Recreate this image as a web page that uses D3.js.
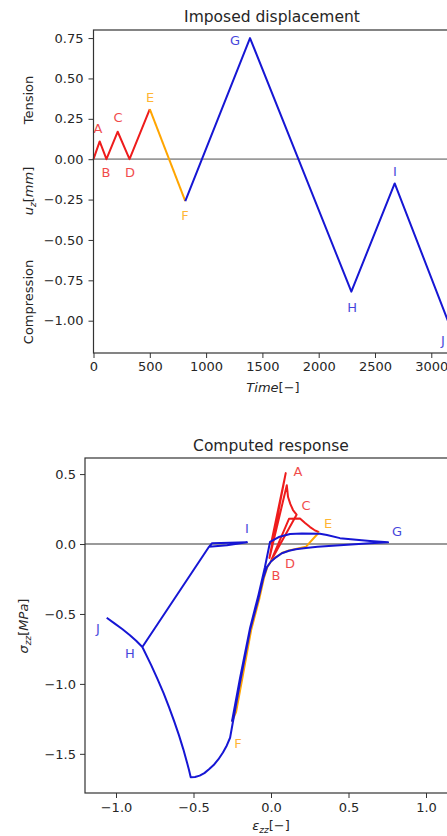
<!DOCTYPE html>
<html>
<head>
<meta charset="utf-8">
<script src="https://cdn.jsdelivr.net/npm/d3@7"></script>
<style>
body{margin:0;background:#fff}
svg{display:block;font-family:"DejaVu Sans",sans-serif}
</style>
</head>
<body>
<svg width="447" height="836"></svg>
<script>
// ---- data: imposed displacement history ----
const pointNames = ["A","B","C","D","E","F","G","H","I","J"];
const dispTime  = [0, 55, 115, 215, 320, 500, 815, 1390, 2290, 2675, 3175];
const dispValue = [0, 0.11, 0, 0.17, 0, 0.31, -0.26, 0.75, -0.82, -0.15, -1.05];
const phaseBreaks = [0, 5, 6, 10]; // red 0..5, orange 5..6, blue 6..10
const dispLabelT = [40, 111, 218, 324, 502, 813, 1257, 2296, 2678, 3104];
const dispLabelU = [0.193, -0.085, 0.261, -0.085, 0.385, -0.346, 0.738, -0.921, -0.079, -1.12];
const timeTicks = [0, 500, 1000, 1500, 2000, 2500, 3000];
const dispTicks = [-1.0, -0.75, -0.5, -0.25, 0, 0.25, 0.5, 0.75];

// ---- data: computed response (strain, stress) ----
const redPath = [[0,0],[0.095,0.507],[-0.01,-0.1],[0.102,0.42],[0.11,0.336],[0.125,0.285],[0.142,0.243],
  [0.165,0.21],[0.0,-0.12],[0.116,0.18],[0.187,0.182],[0.22,0.15],[0.252,0.121],[0.28,0.1],[0.31,0.084]];
const orangePath = [[0.31,0.084],[0.225,-0.02],[0.16,-0.036],[0.116,-0.046],[0.07,-0.064],[0.032,-0.093],
  [0.0,-0.123],[-0.024,-0.165],[-0.046,-0.245],[-0.074,-0.385],[-0.128,-0.615],[-0.19,-0.99],
  [-0.225,-1.2],[-0.252,-1.27]];
const bluePath = [[-0.252,-1.27],[-0.2,-0.96],[-0.135,-0.6],[-0.08,-0.36],[-0.04,-0.17],[-0.006,0.016],
  [0.05,0.05],[0.123,0.071],[0.2,0.075],[0.316,0.074],[0.361,0.064],[0.445,0.042],[0.55,0.03],[0.639,0.022],[0.755,0.012],
  [0.639,0.005],[0.445,-0.008],[0.3,-0.02],[0.225,-0.028],[0.16,-0.038],[0.116,-0.048],[0.07,-0.066],
  [0.032,-0.095],[0.0,-0.125],[-0.026,-0.165],[-0.05,-0.245],[-0.08,-0.385],[-0.135,-0.615],[-0.2,-0.99],
  [-0.264,-1.385],[-0.285,-1.44],[-0.31,-1.49],[-0.34,-1.54],[-0.37,-1.58],[-0.4,-1.61],[-0.43,-1.638],
  [-0.46,-1.656],[-0.49,-1.666],[-0.518,-1.668],
  [-0.529,-1.616],[-0.541,-1.566],[-0.566,-1.466],[-0.594,-1.366],[-0.625,-1.266],[-0.658,-1.166],
  [-0.693,-1.066],[-0.732,-0.966],[-0.773,-0.866],[-0.83,-0.736],
  [-0.4,-0.02],[-0.38,0.006],[-0.155,0.013],
  [-0.284,-0.008],[-0.4,-0.02],[-0.83,-0.736],[-0.87,-0.692],[-0.91,-0.652],[-0.96,-0.608],[-1.01,-0.567],[-1.06,-0.527]];
const respLabelE = [0.174, 0.032, 0.226, 0.123, 0.368, -0.213, 0.813, -0.91, -0.155, -1.116];
const respLabelS = [0.515, -0.223, 0.278, -0.137, 0.15, -1.425, 0.092, -0.781, 0.114, -0.602];
const strainTicks = [-1.0, -0.5, 0, 0.5, 1.0];
const stressTicks = [-1.5, -1.0, -0.5, 0, 0.5];

const colors = ["#ee1c1c", "#ffa500", "#1616d4"];
const labelColor = i => i < 4 ? colors[0] : (i < 6 ? colors[1] : colors[2]);

const svg = d3.select('svg');
svg.append('rect').attr('width', 447).attr('height', 836).attr('fill', '#fff');

// helper for mathtext-like labels: [text, italic, subscript]
const addMath = (sel, pieces) => {
  pieces.forEach(([txt, it, sub], i) => {
    const prevSub = i > 0 && pieces[i-1][2];
    sel.append('tspan').text(txt)
      .attr('font-style', it ? 'italic' : 'normal')
      .attr('font-size', sub ? '9px' : null)
      .attr('dy', sub && !prevSub ? 2.5 : (!sub && prevSub ? -2.5 : null));
  });
};

const styleAxis = g => {
  g.select('.domain').remove();
  g.selectAll('.tick line').attr('stroke', '#333').attr('stroke-width', 1);
  g.selectAll('.tick text').attr('fill', '#262626').attr('font-size', 13)
    .attr('font-family', '"DejaVu Sans",sans-serif');
};

// ================= top: imposed displacement =================
const x1 = d3.scaleLinear().domain([0, 3175]).range([93.5, 451]);
const y1 = d3.scaleLinear().domain([-1.2, 0.8]).range([353, 30]);

const topG = svg.append('g');
topG.append('line').attr('x1', x1.range()[0]).attr('x2', x1.range()[1])
  .attr('y1', y1(0)).attr('y2', y1(0)).attr('stroke', '#9a9a9a').attr('stroke-width', 1.8);

const line1 = d3.line().x(d => x1(d[0])).y(d => y1(d[1]));
const dispPts = dispTime.map((t, i) => [t, dispValue[i]]);
for (let p = 0; p < 3; p++) {
  topG.append('path')
    .attr('d', line1(dispPts.slice(phaseBreaks[p], phaseBreaks[p+1] + 1)))
    .attr('fill', 'none').attr('stroke', colors[p]).attr('stroke-width', 2)
    .attr('stroke-linejoin', 'round');
}
pointNames.forEach((n, i) => {
  topG.append('text').text(n)
    .attr('x', x1(dispLabelT[i])).attr('y', y1(dispLabelU[i]))
    .attr('text-anchor', 'middle').attr('dominant-baseline', 'central')
    .attr('font-size', 13).attr('fill', labelColor(i)).attr('opacity', 0.8);
});

topG.append('rect').attr('x', 93.5).attr('y', 30).attr('width', 451 - 93.5).attr('height', 323)
  .attr('fill', 'none').attr('stroke', '#333').attr('stroke-width', 1.2);

topG.append('g').attr('transform', `translate(0,353)`)
  .call(d3.axisBottom(x1).tickValues(timeTicks).tickFormat(d3.format('d')).tickSize(5).tickPadding(4))
  .call(styleAxis);
topG.append('g').attr('transform', `translate(93.5,0)`)
  .call(d3.axisLeft(y1).tickValues(dispTicks).tickFormat(d3.format('.2f')).tickSize(5).tickPadding(5))
  .call(styleAxis);

topG.append('text').text('Imposed displacement').attr('x', 272).attr('y', 22)
  .attr('text-anchor', 'middle').attr('font-size', 15.5).attr('fill', '#262626');
const tl = topG.append('text').attr('x', 273).attr('y', 392).attr('text-anchor', 'middle')
  .attr('font-size', 13).attr('fill', '#262626');
addMath(tl, [['Time', true, false], ['[−]', false, false]]);

[['Tension', 100], ['Compression', 302]].forEach(([t, yc]) => {
  topG.append('text').text(t).attr('transform', `translate(33,${yc}) rotate(-90)`)
    .attr('text-anchor', 'middle').attr('font-size', 13).attr('fill', '#262626');
});
const ul = topG.append('text').attr('transform', `translate(33,191) rotate(-90)`)
  .attr('text-anchor', 'middle').attr('font-size', 13).attr('fill', '#262626');
addMath(ul, [['u', true, false], ['z', true, true], ['[', false, false], ['mm', true, false], [']', false, false]]);

// ================= bottom: computed response =================
const x2 = d3.scaleLinear().domain([-1.2, 1.2]).range([85, 457]);
const y2 = d3.scaleLinear().domain([-1.78, 0.615]).range([793, 458]);

const botG = svg.append('g');
botG.append('line').attr('x1', x2.range()[0]).attr('x2', x2.range()[1])
  .attr('y1', y2(0)).attr('y2', y2(0)).attr('stroke', '#9a9a9a').attr('stroke-width', 1.8);

const line2 = d3.line().x(d => x2(d[0])).y(d => y2(d[1]));
[redPath, orangePath, bluePath].forEach((path, p) => {
  botG.append('path').attr('d', line2(path))
    .attr('fill', 'none').attr('stroke', colors[p]).attr('stroke-width', 2)
    .attr('stroke-linejoin', 'round');
});
pointNames.forEach((n, i) => {
  botG.append('text').text(n)
    .attr('x', x2(respLabelE[i])).attr('y', y2(respLabelS[i]))
    .attr('text-anchor', 'middle').attr('dominant-baseline', 'central')
    .attr('font-size', 13).attr('fill', labelColor(i)).attr('opacity', 0.8);
});

botG.append('rect').attr('x', 85).attr('y', 458).attr('width', 457 - 85).attr('height', 335)
  .attr('fill', 'none').attr('stroke', '#333').attr('stroke-width', 1.2);

botG.append('g').attr('transform', `translate(0,793)`)
  .call(d3.axisBottom(x2).tickValues(strainTicks).tickFormat(d3.format('.1f')).tickSize(5).tickPadding(5))
  .call(styleAxis);
botG.append('g').attr('transform', `translate(85,0)`)
  .call(d3.axisLeft(y2).tickValues(stressTicks).tickFormat(d3.format('.1f')).tickSize(5).tickPadding(4))
  .call(styleAxis);

botG.append('text').text('Computed response').attr('x', 271).attr('y', 451)
  .attr('text-anchor', 'middle').attr('font-size', 15.5).attr('fill', '#262626');
const el = botG.append('text').attr('x', 271).attr('y', 830).attr('text-anchor', 'middle')
  .attr('font-size', 13).attr('fill', '#262626');
addMath(el, [['ε', true, false], ['zz', true, true], ['[−]', false, false]]);
const sl = botG.append('text').attr('transform', `translate(28,626) rotate(-90)`)
  .attr('text-anchor', 'middle').attr('font-size', 13).attr('fill', '#262626');
addMath(sl, [['σ', true, false], ['zz', true, true], ['[', false, false], ['MPa', true, false], [']', false, false]]);
</script>
</body>
</html>
